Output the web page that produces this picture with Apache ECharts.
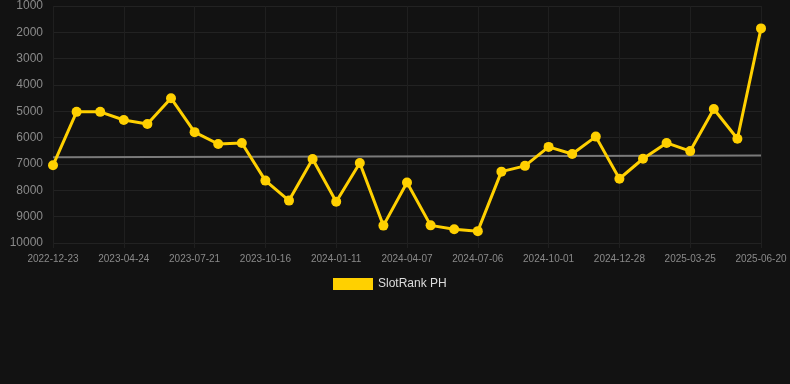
<!DOCTYPE html>
<html>
<head>
<meta charset="utf-8">
<script src="https://cdn.jsdelivr.net/npm/echarts@6/dist/echarts.min.js"></script>
<style>
  html, body { margin: 0; padding: 0; background: #121212; }
  #chart { width: 790px; height: 384px; }
</style>
</head>
<body>
<div id="chart"></div>
<script>
// dates on the x axis (only every third one is labelled)
const dates = [
  '2022-12-23', '2023-02-02', '2023-03-14', '2023-04-24', '2023-05-23', '2023-06-21',
  '2023-07-21', '2023-08-19', '2023-09-17', '2023-10-16', '2023-11-14', '2023-12-13',
  '2024-01-11', '2024-02-09', '2024-03-09', '2024-04-07', '2024-05-07', '2024-06-06',
  '2024-07-06', '2024-08-04', '2024-09-02', '2024-10-01', '2024-10-30', '2024-11-28',
  '2024-12-28', '2025-01-26', '2025-02-24', '2025-03-25', '2025-04-24', '2025-05-22',
  '2025-06-20'
];
// rank values
const rankValues = [
  7050, 5020, 5020, 5330, 5480, 4500,
  5790, 6240, 6200, 7630, 8390, 6810,
  8430, 6960, 9340, 7700, 9330, 9480,
  9550, 7290, 7070, 6350, 6620, 5960,
  7560, 6800, 6200, 6510, 4910, 6040,
  1850
];
// trend line, start and end
const trendValues = [6740, 6680];
const yTicks = [1000, 10000, 1000]; // min, max, interval

const chart = echarts.init(document.getElementById('chart'));

const option = {
  backgroundColor: '#121212',
  animation: false,
  grid: { left: 53, right: 29, top: 6, bottom: 141 },
  legend: {
    data: ['SlotRank PH'],
    top: 273,
    left: 328,
    itemWidth: 40,
    itemHeight: 12,
    itemGap: 10,
    textStyle: { color: '#dddddd', fontSize: 12, fontFamily: 'Arial, Liberation Sans, sans-serif' },
    icon: 'rect'
  },
  xAxis: {
    type: 'category',
    data: dates,
    boundaryGap: false,
    axisLine: { show: false },
    axisTick: { show: true, interval: 2, length: 5, lineStyle: { color: '#1f1f1f' } },
    axisLabel: {
      interval: 2,
      color: '#8a8a8a',
      fontSize: 10,
      margin: 11,
      fontFamily: 'Arial, Liberation Sans, sans-serif'
    },
    splitLine: { show: true, interval: 2, lineStyle: { color: '#1f1f1f', width: 1 } }
  },
  yAxis: {
    type: 'value',
    inverse: true,
    min: yTicks[0],
    max: yTicks[1],
    interval: yTicks[2],
    axisLine: { show: false },
    axisTick: { show: false },
    axisLabel: {
      color: '#8a8a8a',
      fontSize: 12,
      margin: 10,
      formatter: (v) => String(v),
      fontFamily: 'Arial, Liberation Sans, sans-serif'
    },
    splitLine: { lineStyle: { color: '#222', width: 1 } }
  },
  series: [
    {
      name: 'trend',
      type: 'line',
      data: [[0, trendValues[0]], [dates.length - 1, trendValues[1]]],
      symbol: 'none',
      lineStyle: { color: '#7a7a7a', width: 2 },
      z: 1
    },
    {
      name: 'SlotRank PH',
      type: 'line',
      data: rankValues,
      symbol: 'circle',
      symbolSize: 10,
      color: '#ffd000',
      lineStyle: { color: '#ffd000', width: 3 },
      itemStyle: { color: '#ffd000' },
      z: 3
    }
  ]
};

chart.setOption(option);
</script>
</body>
</html>
